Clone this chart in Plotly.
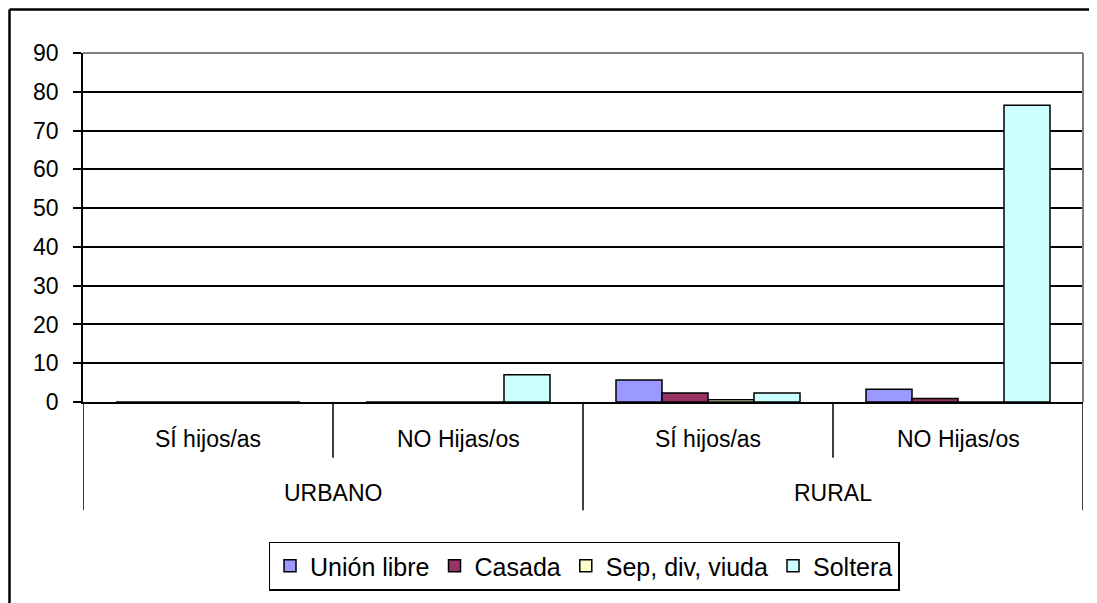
import plotly.graph_objects as go

# ---- data ----
groups = ["URBANO", "RURAL"]
subgroups = ["SÍ hijos/as", "NO Hijas/os"]
series_names = ["Unión libre", "Casada", "Sep, div, viuda", "Soltera"]
union_libre = [0, 0, 5.7, 3.3]
casada = [0, 0, 2.3, 0.9]
sep_div_viuda = [0, 0, 0.6, 0]
soltera = [0, 7.0, 2.3, 76.5]
y_ticks = [0, 10, 20, 30, 40, 50, 60, 70, 80, 90]

series_values = [union_libre, casada, sep_div_viuda, soltera]
colors = ["#9999FF", "#993366", "#FFFFCC", "#CCFFFF"]

FONT = "Liberation Sans, Arial, sans-serif"
FS = 23
LFS = 25

n_sub = len(subgroups)
positions = list(range(len(groups) * n_sub))

fig = go.Figure()
for name, vals, col in zip(series_names, series_values, colors):
    fig.add_trace(go.Bar(
        x=positions, y=vals, name=name,
        marker=dict(color=col, line=dict(color="black", width=1.5)),
    ))

fig.update_layout(
    width=1089, height=595,
    margin=dict(l=75, r=14, t=45, b=198),
    paper_bgcolor="white", plot_bgcolor="white",
    barmode="group", bargap=0.264, bargroupgap=0,
    font=dict(family=FONT, size=FS, color="black"),
    legend=dict(
        orientation="h", x=0.501, xanchor="center", y=-0.40, yanchor="top",
        bordercolor="black", borderwidth=1.5, font=dict(size=LFS),
        itemwidth=30, tracegroupgap=0,
    ),
    showlegend=True,
)

fig.update_xaxes(
    range=[-0.5, len(positions) - 0.5],
    showticklabels=False, showgrid=False, zeroline=False,
    showline=True, linecolor="black", linewidth=1.5, ticks="",
)
fig.update_yaxes(
    range=[0, 90], tickvals=y_ticks,
    showgrid=True, gridcolor="black", gridwidth=1.5,
    zeroline=False, showline=True, linecolor="black", linewidth=1.5,
    ticks="outside", ticklen=8, tickwidth=1.5, tickcolor="black",
    ticklabelstandoff=10,
    tickfont=dict(size=FS),
)

# plot area grey top/right border
fig.add_shape(type="line", xref="paper", yref="paper", x0=0, x1=1, y0=1, y1=1,
              line=dict(color="#808080", width=2), layer="above")
fig.add_shape(type="line", xref="paper", yref="paper", x0=1, x1=1, y0=0, y1=1,
              line=dict(color="#808080", width=2), layer="above")

# category separators
inner_bottom = -0.16
outer_bottom = -0.31
for i in range(len(positions) + 1):
    xb = i - 0.5
    is_outer = (i % n_sub == 0)
    fig.add_shape(type="line", xref="x", yref="paper", x0=xb, x1=xb,
                  y0=0, y1=outer_bottom if is_outer else inner_bottom,
                  line=dict(color="black", width=1.5))

# category labels
for gi, g in enumerate(groups):
    for si, s in enumerate(subgroups):
        p = gi * n_sub + si
        fig.add_annotation(x=p, y=-0.105, xref="x", yref="paper", text=s,
                           showarrow=False, yanchor="middle",
                           font=dict(size=FS, family=FONT))
    center = gi * n_sub + (n_sub - 1) / 2
    fig.add_annotation(x=center, y=-0.261, xref="x", yref="paper", text=g,
                       showarrow=False, yanchor="middle",
                       font=dict(size=FS, family=FONT))

# chart-area border (top and left visible)
fig.add_shape(type="line", xref="paper", yref="paper", x0=-0.0735, x1=1.03,
              y0=1.125, y1=1.125, line=dict(color="black", width=2.5))
fig.add_shape(type="line", xref="paper", yref="paper", x0=-0.0735, x1=-0.0735,
              y0=1.125, y1=-0.6, line=dict(color="black", width=2.5))

fig.write_html("out.html")
